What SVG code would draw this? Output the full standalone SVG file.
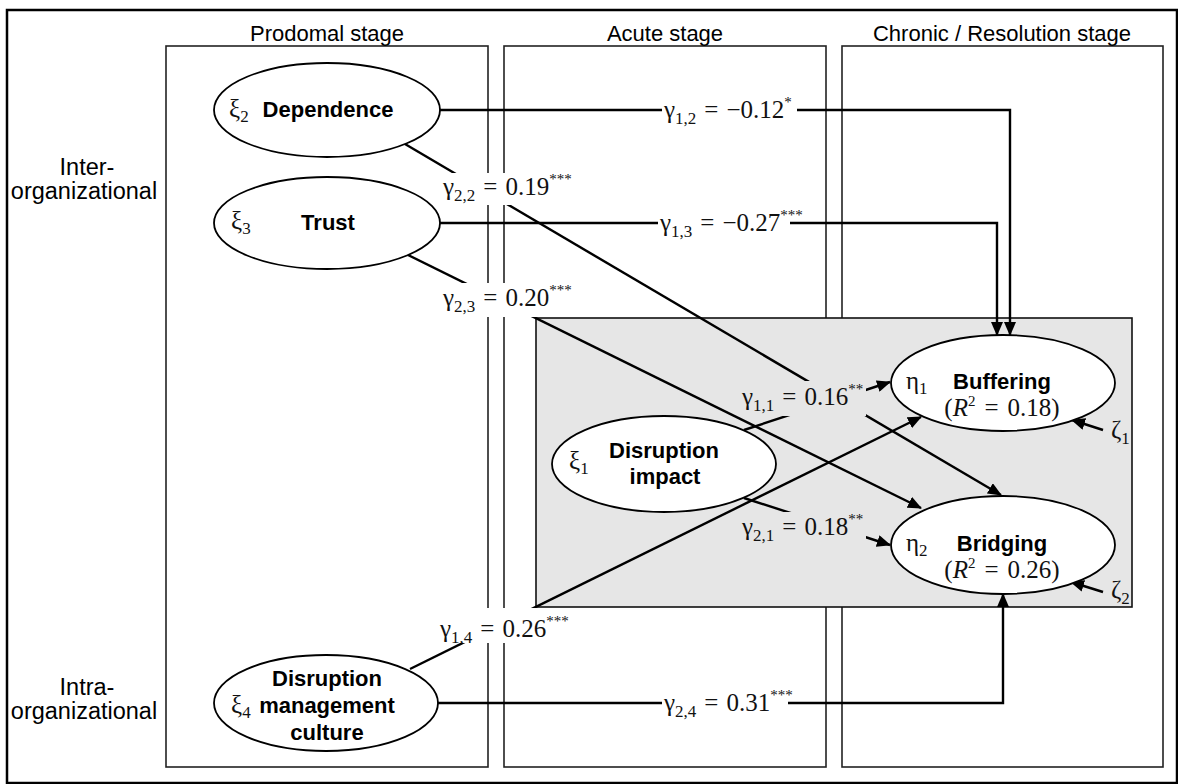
<svg xmlns="http://www.w3.org/2000/svg" width="1178" height="784" viewBox="0 0 1178 784">
<defs>
<marker id="ah" markerUnits="userSpaceOnUse" markerWidth="14" markerHeight="12" refX="13" refY="6" orient="auto">
<path d="M0,0 L14,6 L0,12 z" fill="#000"/>
</marker>
<style>
.frame{fill:none;stroke:#000;stroke-width:2.5}
.col{fill:none;stroke:#222;stroke-width:1.6}
.zone{fill:#e6e6e6;stroke:#111;stroke-width:1.6}
.node{fill:#fff;stroke:#000;stroke-width:1.8}
.con{fill:none;stroke:#000;stroke-width:2.4;marker-end:url(#ah)}
.lbl{font-family:"Liberation Sans",Arial,sans-serif;font-size:22px;fill:#000;text-anchor:middle}
.row{font-family:"Liberation Sans",Arial,sans-serif;font-size:23.5px;fill:#000;text-anchor:middle}
.nm{font-family:"Liberation Sans",Arial,sans-serif;font-size:22px;font-weight:bold;fill:#000;text-anchor:middle}
.math{font-family:"Liberation Serif","Times New Roman",serif;font-size:25px;fill:#111}
.rsq{font-family:"Liberation Serif","Times New Roman",serif;font-size:25px;fill:#111;text-anchor:middle}
.sub{font-size:17px}
.sup{font-size:15px}
.wbg{fill:#fff}
.gbg{fill:#e6e6e6}
</style>
</defs>
<rect class="frame" x="7" y="10" width="1170" height="773"/>
<g id="columns">
<rect class="col" x="166" y="46" width="322" height="721"/>
<rect class="col" x="504" y="46" width="322" height="721"/>
<rect class="col" x="842" y="46" width="321" height="721"/>
<text class="lbl" x="327" y="41">Prodomal stage</text>
<text class="lbl" x="665" y="41">Acute stage</text>
<text class="lbl" x="1002" y="41">Chronic / Resolution stage</text>
<text class="row" x="87" y="175">Inter-</text>
<text class="row" x="84" y="199">organizational</text>
<text class="row" x="87" y="695">Intra-</text>
<text class="row" x="84" y="719">organizational</text>
</g>
<rect id="acute-zone" class="zone" x="536" y="318" width="596" height="289"/>
<g id="connectors">
<path class="con" d="M440,110 H1010 V335"/>
<path class="con" d="M440,223 H997 V335"/>
<path class="con" d="M438,703 H1003 V594"/>
<path class="con" d="M405,144 L1001,495"/>
<path class="con" d="M408,255 L921,508"/>
<path class="con" d="M410,669 L921,417"/>
<path class="con" d="M744,430 L890,382"/>
<path class="con" d="M744,498 L890,545"/>
<path class="con" d="M1103,430 L1072,420"/>
<path class="con" d="M1103,592 L1071,582"/>
</g>
<g id="connector-labels">
<rect class="wbg" x="662" y="95" width="135" height="32"/>
<text class="math" x="664" y="118">γ<tspan class="sub" dy="6">1,2</tspan><tspan dx="8" dy="-6">=</tspan><tspan dx="8">−0.12</tspan><tspan class="sup" dy="-11">*</tspan></text>
<rect class="wbg" x="658" y="208" width="132" height="32"/>
<text class="math" x="660" y="231">γ<tspan class="sub" dy="6">1,3</tspan><tspan dx="8" dy="-6">=</tspan><tspan dx="8">−0.27</tspan><tspan class="sup" dy="-11">***</tspan></text>
<rect class="wbg" x="662" y="688" width="126" height="32"/>
<text class="math" x="664" y="711">γ<tspan class="sub" dy="6">2,4</tspan><tspan dx="8" dy="-6">=</tspan><tspan dx="8">0.31</tspan><tspan class="sup" dy="-11">***</tspan></text>
<rect class="wbg" x="438" y="173" width="154" height="32"/>
<text class="math" x="443" y="195">γ<tspan class="sub" dy="6">2,2</tspan><tspan dx="8" dy="-6">=</tspan><tspan dx="8">0.19</tspan><tspan class="sup" dy="-11">***</tspan></text>
<rect class="wbg" x="438" y="283" width="154" height="34"/>
<text class="math" x="443" y="306">γ<tspan class="sub" dy="6">2,3</tspan><tspan dx="8" dy="-6">=</tspan><tspan dx="8">0.20</tspan><tspan class="sup" dy="-11">***</tspan></text>
<rect class="wbg" x="438" y="608" width="154" height="35"/>
<text class="math" x="440" y="637">γ<tspan class="sub" dy="6">1,4</tspan><tspan dx="8" dy="-6">=</tspan><tspan dx="8">0.26</tspan><tspan class="sup" dy="-11">***</tspan></text>
<rect class="gbg" x="742" y="381" width="124" height="35"/>
<text class="math" x="742" y="405">γ<tspan class="sub" dy="6">1,1</tspan><tspan dx="8" dy="-6">=</tspan><tspan dx="8">0.16</tspan><tspan class="sup" dy="-11">**</tspan></text>
<rect class="gbg" x="742" y="512" width="124" height="33"/>
<text class="math" x="742" y="535">γ<tspan class="sub" dy="6">2,1</tspan><tspan dx="8" dy="-6">=</tspan><tspan dx="8">0.18</tspan><tspan class="sup" dy="-11">**</tspan></text>
<text class="math" x="1111" y="438">ζ<tspan class="sub" dy="6">1</tspan></text>
<text class="math" x="1111" y="598">ζ<tspan class="sub" dy="6">2</tspan></text>
</g>
<g id="dependence">
<ellipse class="node" cx="327" cy="110" rx="113" ry="47"/>
<text class="math" x="229" y="117">ξ<tspan class="sub" dy="5">2</tspan></text>
<text class="nm" x="328" y="117">Dependence</text>
</g>
<g id="trust">
<ellipse class="node" cx="327" cy="223" rx="113" ry="46"/>
<text class="math" x="231" y="229">ξ<tspan class="sub" dy="5">3</tspan></text>
<text class="nm" x="328" y="230">Trust</text>
</g>
<g id="disruption-impact">
<ellipse class="node" cx="664" cy="464" rx="112" ry="48"/>
<text class="math" x="569" y="469">ξ<tspan class="sub" dy="5">1</tspan></text>
<text class="nm" x="664" y="458">Disruption</text>
<text class="nm" x="665" y="484">impact</text>
</g>
<g id="disruption-management-culture">
<ellipse class="node" cx="326" cy="703" rx="112" ry="48"/>
<text class="math" x="231" y="713">ξ<tspan class="sub" dy="5">4</tspan></text>
<text class="nm" x="327" y="686">Disruption</text>
<text class="nm" x="327" y="713">management</text>
<text class="nm" x="327" y="740">culture</text>
</g>
<g id="buffering">
<ellipse class="node" cx="1003" cy="383" rx="112" ry="48"/>
<text class="math" x="906" y="389">η<tspan class="sub" dy="5">1</tspan></text>
<text class="nm" x="1002" y="389">Buffering</text>
<text class="rsq" x="1002" y="416">(<tspan font-style="italic">R</tspan><tspan class="sup" dy="-10">2</tspan><tspan dx="9" dy="10">=</tspan><tspan dx="9">0.18)</tspan></text>
</g>
<g id="bridging">
<ellipse class="node" cx="1003" cy="545" rx="112" ry="49"/>
<text class="math" x="906" y="551">η<tspan class="sub" dy="5">2</tspan></text>
<text class="nm" x="1002" y="551">Bridging</text>
<text class="rsq" x="1002" y="578">(<tspan font-style="italic">R</tspan><tspan class="sup" dy="-10">2</tspan><tspan dx="9" dy="10">=</tspan><tspan dx="9">0.26)</tspan></text>
</g>
</svg>
